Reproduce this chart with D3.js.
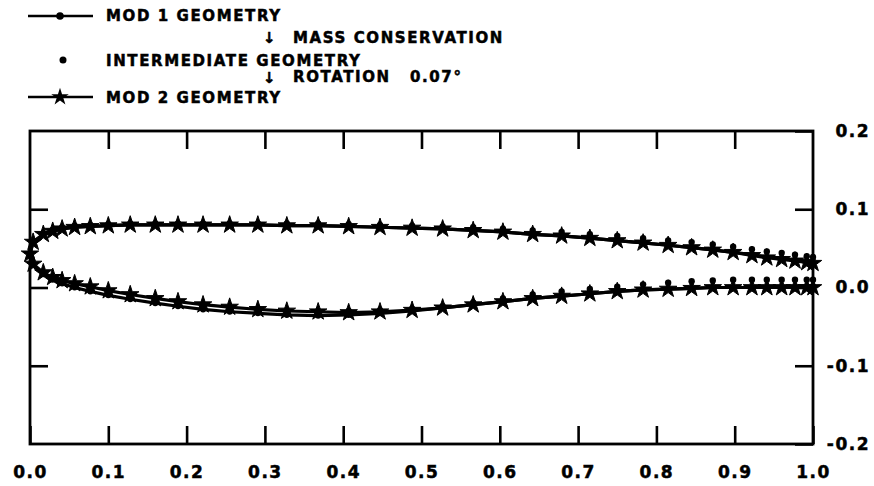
<!DOCTYPE html>
<html><head><meta charset="utf-8">
<script src="https://cdn.jsdelivr.net/npm/d3@7"></script>
<style>
body{margin:0;background:#fff}
text{font-family:"DejaVu Sans",sans-serif;font-weight:bold;fill:#000;stroke:#000;stroke-width:0.5}
</style>
</head><body>
<svg id="c" width="874" height="486"></svg>
<script>
// ---- data (chord stations shared by all surfaces) ----
const xStations = [0, 0.004, 0.017, 0.029, 0.041, 0.057, 0.077, 0.100, 0.128, 0.160, 0.189, 0.221, 0.255, 0.291, 0.328, 0.368, 0.407, 0.447, 0.488, 0.527, 0.566, 0.604, 0.642, 0.679, 0.715, 0.750, 0.783, 0.815, 0.845, 0.872, 0.898, 0.922, 0.941, 0.960, 0.977, 0.992, 1.000];

const upperMod1 = [0.043, 0.058, 0.068, 0.072, 0.075, 0.077, 0.078, 0.079, 0.080, 0.080, 0.080, 0.080, 0.080, 0.080, 0.079, 0.079, 0.078, 0.077, 0.076, 0.075, 0.073, 0.071, 0.068, 0.066, 0.063, 0.060, 0.057, 0.054, 0.051, 0.048, 0.045, 0.042, 0.039, 0.037, 0.035, 0.033, 0.032];
const lowerMod1 = [0.043, 0.029, 0.017, 0.010, 0.005, 0.000, -0.005, -0.010, -0.015, -0.020, -0.024, -0.028, -0.031, -0.033, -0.035, -0.036, -0.035, -0.033, -0.030, -0.026, -0.022, -0.018, -0.014, -0.011, -0.008, -0.005, -0.003, -0.002, -0.001, 0.000, 0.000, 0.000, 0.001, 0.001, 0.001, 0.001, 0.001];

const upperInter = [0.043, 0.059, 0.069, 0.074, 0.077, 0.079, 0.080, 0.081, 0.082, 0.082, 0.082, 0.082, 0.082, 0.082, 0.082, 0.082, 0.081, 0.080, 0.079, 0.078, 0.077, 0.075, 0.073, 0.071, 0.068, 0.066, 0.063, 0.060, 0.058, 0.055, 0.052, 0.049, 0.046, 0.044, 0.042, 0.040, 0.039];
const lowerInter = [0.043, 0.030, 0.019, 0.013, 0.009, 0.005, 0.001, -0.004, -0.009, -0.014, -0.018, -0.022, -0.025, -0.027, -0.029, -0.030, -0.030, -0.029, -0.027, -0.024, -0.019, -0.014, -0.009, -0.005, -0.002, 0.001, 0.004, 0.006, 0.008, 0.009, 0.010, 0.010, 0.010, 0.010, 0.010, 0.010, 0.010];

const upperMod2 = [0.043, 0.058, 0.068, 0.072, 0.075, 0.077, 0.078, 0.079, 0.080, 0.080, 0.080, 0.080, 0.080, 0.080, 0.079, 0.079, 0.078, 0.077, 0.076, 0.075, 0.073, 0.071, 0.068, 0.066, 0.063, 0.060, 0.057, 0.054, 0.051, 0.048, 0.045, 0.041, 0.038, 0.036, 0.034, 0.032, 0.031];
const lowerMod2 = [0.043, 0.030, 0.019, 0.013, 0.009, 0.005, 0.001, -0.004, -0.009, -0.014, -0.018, -0.022, -0.025, -0.028, -0.030, -0.031, -0.032, -0.031, -0.029, -0.026, -0.022, -0.018, -0.014, -0.011, -0.008, -0.005, -0.003, -0.002, -0.001, 0.000, 0.000, 0.000, 0.000, 0.000, 0.000, 0.000, 0.000];

const xTicks = [0, 0.1, 0.2, 0.3, 0.4, 0.5, 0.6, 0.7, 0.8, 0.9, 1.0];
const xTickLabels = ["0.0", "0.1", "0.2", "0.3", "0.4", "0.5", "0.6", "0.7", "0.8", "0.9", "1.0"];
const yTicks = [0.2, 0.1, 0.0, -0.1, -0.2];
const yTickLabels = ["0.2", "0.1", "0.0", "-0.1", "-0.2"];

const legendSeries = ["MOD 1 GEOMETRY", "INTERMEDIATE GEOMETRY", "MOD 2 GEOMETRY"];
const legendSteps = ["MASS CONSERVATION", "ROTATION"];
const rotationLabel = "0.07°";

// ---- layout ----
const svg = d3.select("#c");
const L = 30, R = 813, T = 131, B = 444;
const x = d3.scaleLinear().domain([0, 1]).range([L, R]);
const y = d3.scaleLinear().domain([-0.2, 0.2]).range([B, T]);

// frame
svg.append("rect").attr("x", L).attr("y", T).attr("width", R - L).attr("height", B - T)
  .attr("fill", "none").attr("stroke", "#000").attr("stroke-width", 2.8);

const tickLen = 18;
function styleAxis(g) {
  g.select(".domain").remove();
  g.selectAll(".tick line").attr("stroke", "#000").attr("stroke-width", 2.6);
}
function styleLabels(sel) {
  sel.attr("font-size", 17).attr("letter-spacing", 1.5)
    .attr("font-family", '"DejaVu Sans",sans-serif').attr("font-weight", "bold")
    .attr("fill", "#000").attr("stroke", "#000").attr("stroke-width", 0.6);
}
// bottom axis with labels
svg.append("g").attr("transform", `translate(0,${B})`)
  .call(d3.axisBottom(x).tickValues(xTicks).tickSize(-tickLen).tickPadding(22)
    .tickFormat((d, i) => xTickLabels[i]))
  .call(styleAxis)
  .call(g => styleLabels(g.selectAll("text")));
// top axis
svg.append("g").attr("transform", `translate(0,${T})`)
  .call(d3.axisTop(x).tickValues(xTicks.slice(1, -1)).tickSize(-tickLen).tickFormat(""))
  .call(styleAxis);
// left axis
svg.append("g").attr("transform", `translate(${L},0)`)
  .call(d3.axisLeft(y).tickValues(yTicks.slice(1, -1)).tickSize(-tickLen).tickFormat(""))
  .call(styleAxis);
// right axis with labels (right aligned)
svg.append("g").attr("transform", `translate(${R},0)`)
  .call(d3.axisRight(y).tickValues(yTicks).tickSize(-tickLen).tickPadding(0)
    .tickFormat((d, i) => yTickLabels[i]))
  .call(styleAxis)
  .call(g => styleLabels(g.selectAll("text").attr("x", 870 - R).attr("text-anchor", "end")));

// ---- contour helpers ----
function contour(up, lo) {
  const pts = [];
  for (let i = xStations.length - 1; i >= 0; i--) pts.push([xStations[i], up[i]]);
  for (let i = 1; i < xStations.length; i++) pts.push([xStations[i], lo[i]]);
  return pts;
}
const line = d3.line().x(d => x(d[0])).y(d => y(d[1]));
const plot = svg.append("g");

const mod1 = contour(upperMod1, lowerMod1);
const inter = contour(upperInter, lowerInter);
const mod2 = contour(upperMod2, lowerMod2);

plot.append("path").datum(mod1).attr("d", line).attr("fill", "none").attr("stroke", "#000").attr("stroke-width", 3.2).attr("stroke-linejoin", "round");
plot.append("path").datum(mod2).attr("d", line).attr("fill", "none").attr("stroke", "#000").attr("stroke-width", 3.2).attr("stroke-linejoin", "round");

const star = d3.symbol().type(d3.symbolStar).size(95);
plot.selectAll(".s2").data(mod2).join("path").attr("class", "s2")
  .attr("transform", d => `translate(${x(d[0])},${y(d[1])})`).attr("d", star)
  .attr("fill", "#000").attr("stroke", "#000").attr("stroke-width", 1).attr("stroke-linejoin", "round");
plot.selectAll(".d1").data(mod1).join("circle").attr("class", "d1")
  .attr("cx", d => x(d[0])).attr("cy", d => y(d[1])).attr("r", 3).attr("fill", "#000");
plot.selectAll(".di").data(inter).join("circle").attr("class", "di")
  .attr("cx", d => x(d[0])).attr("cy", d => y(d[1])).attr("r", 3.2).attr("fill", "#000");

// ---- legend ----
const lg = svg.append("g");
const lf = 15, ls = 1.6;
function ltext(tx, ty, s, fs) {
  return lg.append("text").attr("x", tx).attr("y", ty + 5.5).attr("font-size", fs || lf)
    .attr("letter-spacing", fs ? 0 : ls).text(s);
}
// MOD 1
lg.append("line").attr("x1", 28).attr("x2", 93).attr("y1", 16).attr("y2", 16).attr("stroke", "#000").attr("stroke-width", 2.6);
lg.append("circle").attr("cx", 60).attr("cy", 16).attr("r", 3.8).attr("fill", "#000");
ltext(106, 15.5, legendSeries[0]);
ltext(263, 37, "↓", 15);
ltext(293, 37, legendSteps[0]);
// Intermediate
lg.append("circle").attr("cx", 63).attr("cy", 60).attr("r", 3.5).attr("fill", "#000");
ltext(106, 60, legendSeries[1]);
ltext(263, 77, "↓", 15);
ltext(293, 76, legendSteps[1]);
ltext(410, 76, rotationLabel);
// MOD 2
lg.append("line").attr("x1", 28).attr("x2", 93).attr("y1", 97).attr("y2", 97).attr("stroke", "#000").attr("stroke-width", 2.6);
lg.append("path").attr("transform", "translate(60,97)").attr("d", star).attr("fill", "#000");
ltext(106, 97, legendSeries[2]);
</script>
</body></html>
